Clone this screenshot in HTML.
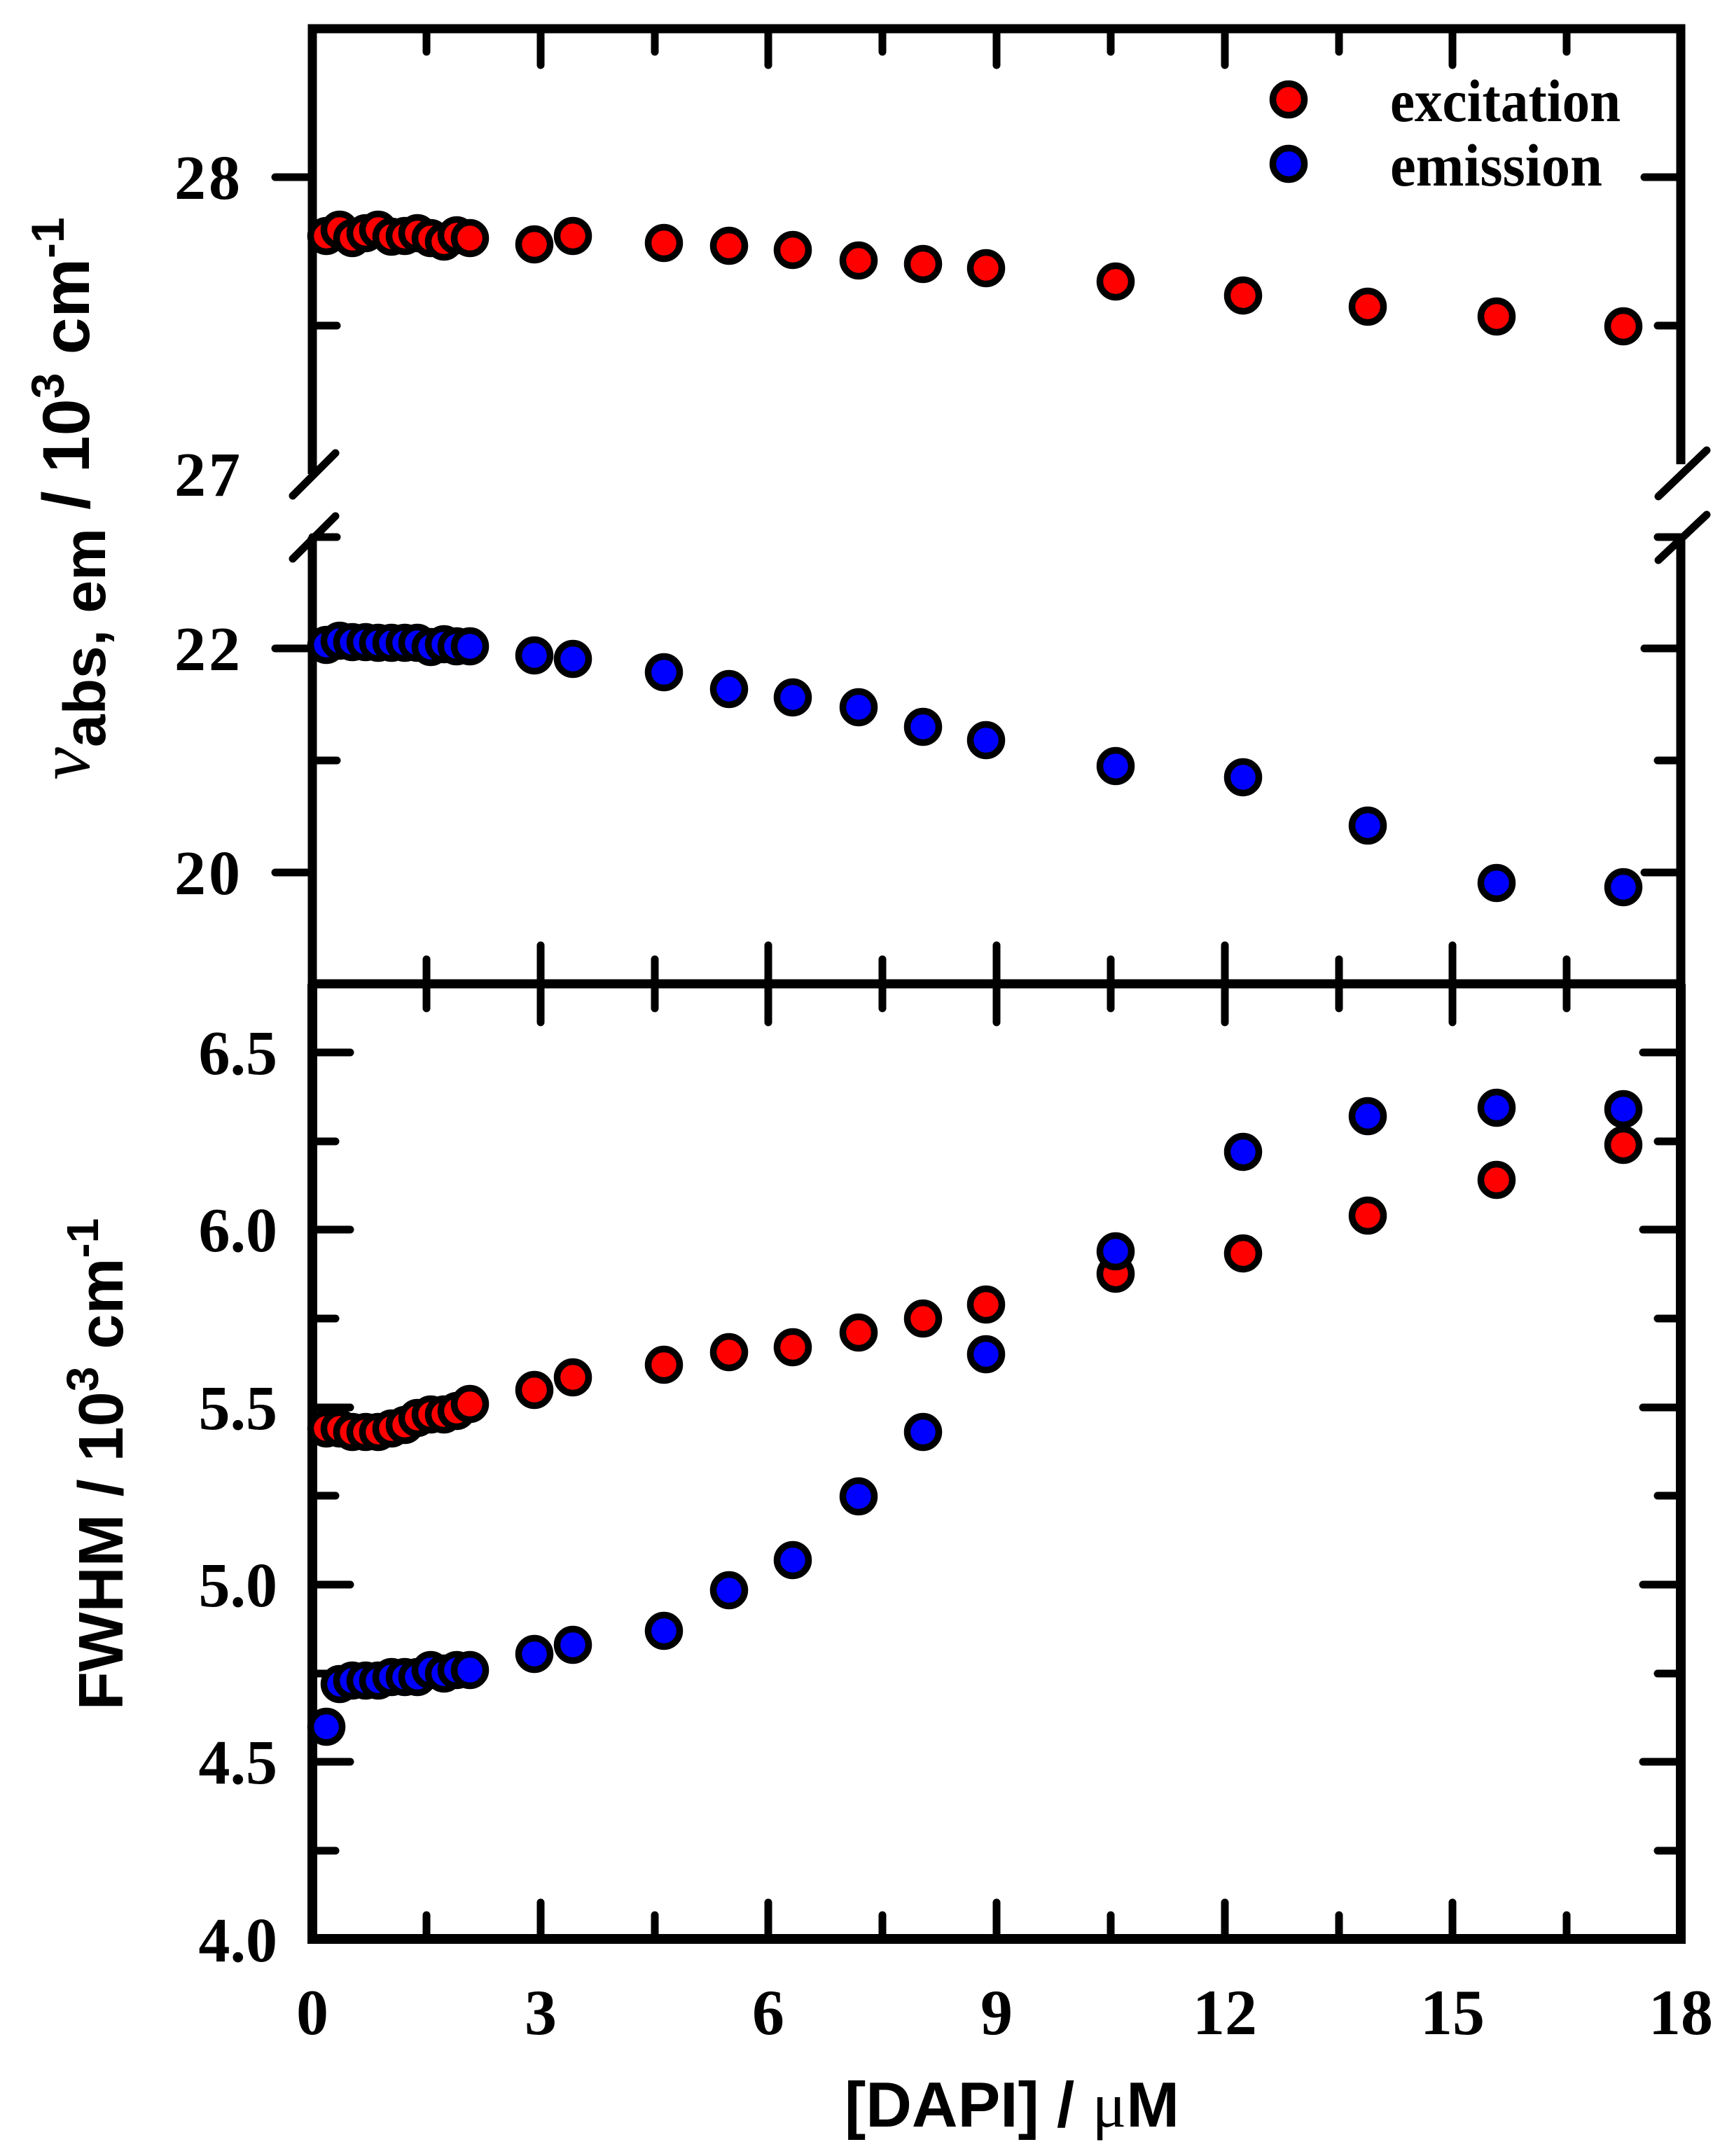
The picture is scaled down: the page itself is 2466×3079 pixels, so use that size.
<!DOCTYPE html>
<html><head><meta charset="utf-8"><style>
html,body{margin:0;padding:0;background:#fff;}
svg{display:block;}
</style></head><body>
<svg width="2466" height="3079" viewBox="0 0 2466 3079" xmlns="http://www.w3.org/2000/svg">
<rect width="2466" height="3079" fill="#fff"/>
<g stroke="#000" stroke-linecap="round" fill="none">
 <path d="M446 677 L446 41 L2400 41 L2400 663" stroke-width="13" stroke-linecap="butt"/>
 <path d="M446 767 L446 1405 L2400 1405 L2400 767" stroke-width="13" stroke-linecap="butt"/>
 <g stroke-width="11">
  <line x1="418" y1="708" x2="479" y2="647"/><line x1="418" y1="798" x2="479" y2="737"/>
  <line x1="2368" y1="709" x2="2437" y2="643"/><line x1="2368" y1="800" x2="2437" y2="735"/>
 </g>
 <path d="M446 1405 L446 2769 L2400 2769 L2400 1405" stroke-width="14" stroke-linecap="butt"/>
 <g stroke-width="11">
  <line x1="393" y1="253" x2="446" y2="253"/><line x1="393" y1="926" x2="446" y2="926"/><line x1="393" y1="1246" x2="446" y2="1246"/>
  <line x1="446" y1="465" x2="481" y2="465"/><line x1="446" y1="767" x2="481" y2="767"/><line x1="446" y1="1086" x2="481" y2="1086"/>
  <line x1="2348" y1="253" x2="2400" y2="253"/><line x1="2367" y1="465" x2="2400" y2="465"/>
  <line x1="2367" y1="767" x2="2400" y2="767"/><line x1="2348" y1="926" x2="2400" y2="926"/>
  <line x1="2367" y1="1086" x2="2400" y2="1086"/><line x1="2348" y1="1246" x2="2400" y2="1246"/>
  <line x1="609" y1="41" x2="609" y2="74"/><line x1="772" y1="41" x2="772" y2="93"/>
  <line x1="935" y1="41" x2="935" y2="74"/><line x1="1097" y1="41" x2="1097" y2="93"/>
  <line x1="1260" y1="41" x2="1260" y2="74"/><line x1="1423" y1="41" x2="1423" y2="93"/>
  <line x1="1586" y1="41" x2="1586" y2="74"/><line x1="1749" y1="41" x2="1749" y2="93"/>
  <line x1="1912" y1="41" x2="1912" y2="74"/><line x1="2074" y1="41" x2="2074" y2="93"/>
  <line x1="2237" y1="41" x2="2237" y2="74"/>
  <line x1="609" y1="1370" x2="609" y2="1440"/><line x1="772" y1="1350" x2="772" y2="1460"/>
  <line x1="935" y1="1370" x2="935" y2="1440"/><line x1="1097" y1="1350" x2="1097" y2="1460"/>
  <line x1="1260" y1="1370" x2="1260" y2="1440"/><line x1="1423" y1="1350" x2="1423" y2="1460"/>
  <line x1="1586" y1="1370" x2="1586" y2="1440"/><line x1="1749" y1="1350" x2="1749" y2="1460"/>
  <line x1="1912" y1="1370" x2="1912" y2="1440"/><line x1="2074" y1="1350" x2="2074" y2="1460"/>
  <line x1="2237" y1="1370" x2="2237" y2="1440"/>
  <line x1="609" y1="2769" x2="609" y2="2735"/><line x1="772" y1="2769" x2="772" y2="2717"/>
  <line x1="935" y1="2769" x2="935" y2="2735"/><line x1="1097" y1="2769" x2="1097" y2="2717"/>
  <line x1="1260" y1="2769" x2="1260" y2="2735"/><line x1="1423" y1="2769" x2="1423" y2="2717"/>
  <line x1="1586" y1="2769" x2="1586" y2="2735"/><line x1="1749" y1="2769" x2="1749" y2="2717"/>
  <line x1="1912" y1="2769" x2="1912" y2="2735"/><line x1="2074" y1="2769" x2="2074" y2="2717"/>
  <line x1="2237" y1="2769" x2="2237" y2="2735"/>
  <line x1="446" y1="2263" x2="500" y2="2263"/><line x1="2400" y1="2263" x2="2346" y2="2263"/>
  <line x1="446" y1="1756" x2="500" y2="1756"/><line x1="2400" y1="1756" x2="2346" y2="1756"/>
  <line x1="446" y1="2516" x2="500" y2="2516"/><line x1="2400" y1="2516" x2="2346" y2="2516"/>
  <line x1="446" y1="2010" x2="500" y2="2010"/><line x1="2400" y1="2010" x2="2346" y2="2010"/>
  <line x1="446" y1="1503" x2="500" y2="1503"/><line x1="2400" y1="1503" x2="2346" y2="1503"/>
  <line x1="446" y1="2643" x2="479" y2="2643"/><line x1="2400" y1="2643" x2="2367" y2="2643"/>
  <line x1="446" y1="2390" x2="479" y2="2390"/><line x1="2400" y1="2390" x2="2367" y2="2390"/>
  <line x1="446" y1="2136" x2="479" y2="2136"/><line x1="2400" y1="2136" x2="2367" y2="2136"/>
  <line x1="446" y1="1883" x2="479" y2="1883"/><line x1="2400" y1="1883" x2="2367" y2="1883"/>
  <line x1="446" y1="1630" x2="479" y2="1630"/><line x1="2400" y1="1630" x2="2367" y2="1630"/>
 </g>
</g>
<g font-family="'Liberation Serif',serif" font-weight="bold" font-size="90" fill="#000" text-anchor="end">
 <text x="347" y="284" letter-spacing="4">28</text>
 <text x="347" y="708" letter-spacing="4">27</text>
 <text x="347" y="957" letter-spacing="4">22</text>
 <text x="347" y="1277" letter-spacing="4">20</text>
 <text x="396" y="1534">6.5</text>
 <text x="396" y="1787">6.0</text>
 <text x="396" y="2041">5.5</text>
 <text x="396" y="2294">5.0</text>
 <text x="396" y="2547">4.5</text>
 <text x="396" y="2801">4.0</text>
</g>
<g font-family="'Liberation Serif',serif" font-weight="bold" font-size="92" fill="#000" text-anchor="middle">
 <text x="446" y="2905">0</text><text x="772" y="2905">3</text><text x="1097" y="2905">6</text>
 <text x="1423" y="2905">9</text><text x="1749" y="2905">12</text><text x="2074" y="2905">15</text>
 <text x="2400" y="2905">18</text>
</g>
<text x="1206" y="3037" font-family="'Liberation Sans',sans-serif" font-weight="bold" font-size="91" textLength="478" lengthAdjust="spacingAndGlyphs">[DAPI] / <tspan font-family="'Liberation Serif',serif" font-weight="normal">μ</tspan>M</text>
<text transform="translate(127,712) rotate(-90)" text-anchor="middle" font-family="'Liberation Sans',sans-serif" font-weight="bold" font-size="95"><tspan font-style="italic" font-weight="normal" font-family="'Liberation Serif',serif" font-size="105">ν</tspan><tspan font-size="84" dy="23">abs, em</tspan><tspan dy="-23"> / 10</tspan><tspan font-size="66" dy="-36">3</tspan><tspan dy="36"> cm</tspan><tspan font-size="66" dy="-36">-1</tspan></text>
<text transform="translate(175,2091) rotate(-90)" text-anchor="middle" font-family="'Liberation Sans',sans-serif" font-weight="bold" font-size="90">FWHM / 10<tspan font-size="64" dy="-35">3</tspan><tspan dy="35"> cm</tspan><tspan font-size="64" dy="-35">-1</tspan></text>
<g stroke="#000" stroke-width="9.5">
 <circle cx="1840" cy="142" r="22.5" fill="#ff0000"/>
 <circle cx="1840" cy="234" r="22.5" fill="#0000ff"/>
</g>
<g font-family="'Liberation Serif',serif" font-weight="bold" font-size="86" fill="#000">
 <text x="1985" y="173" textLength="329" lengthAdjust="spacingAndGlyphs">excitation</text>
 <text x="1985" y="265" textLength="303" lengthAdjust="spacingAndGlyphs">emission</text>
</g>
<g stroke="#000" stroke-width="9.5">
 <g fill="#ff0000">
  <circle cx="466" cy="337" r="22.5"/><circle cx="485" cy="328" r="22.5"/><circle cx="503" cy="340" r="22.5"/>
  <circle cx="522" cy="333" r="22.5"/><circle cx="540" cy="328" r="22.5"/><circle cx="559" cy="338" r="22.5"/>
  <circle cx="578" cy="337" r="22.5"/><circle cx="596" cy="333" r="22.5"/><circle cx="615" cy="340" r="22.5"/>
  <circle cx="634" cy="345" r="22.5"/><circle cx="652" cy="336" r="22.5"/><circle cx="671" cy="340" r="22.5"/>
  <circle cx="763" cy="349" r="22.5"/><circle cx="818" cy="337" r="22.5"/><circle cx="948" cy="347" r="22.5"/>
  <circle cx="1041" cy="351" r="22.5"/><circle cx="1132" cy="357" r="22.5"/><circle cx="1226" cy="372" r="22.5"/>
  <circle cx="1318" cy="377" r="22.5"/><circle cx="1408" cy="383" r="22.5"/><circle cx="1593" cy="402" r="22.5"/>
  <circle cx="1775" cy="422" r="22.5"/><circle cx="1953" cy="438" r="22.5"/><circle cx="2137" cy="452" r="22.5"/>
  <circle cx="2318" cy="466" r="22.5"/>
 </g>
 <g fill="#0000ff">
  <circle cx="466" cy="921" r="22.5"/><circle cx="485" cy="915" r="22.5"/><circle cx="503" cy="917" r="22.5"/>
  <circle cx="522" cy="917" r="22.5"/><circle cx="540" cy="918" r="22.5"/><circle cx="559" cy="918" r="22.5"/>
  <circle cx="578" cy="918" r="22.5"/><circle cx="596" cy="918" r="22.5"/><circle cx="615" cy="924" r="22.5"/>
  <circle cx="634" cy="920" r="22.5"/><circle cx="652" cy="923" r="22.5"/><circle cx="671" cy="923" r="22.5"/>
  <circle cx="763" cy="936" r="22.5"/><circle cx="818" cy="941" r="22.5"/><circle cx="948" cy="960" r="22.5"/>
  <circle cx="1041" cy="984" r="22.5"/><circle cx="1132" cy="996" r="22.5"/><circle cx="1226" cy="1010" r="22.5"/>
  <circle cx="1318" cy="1038" r="22.5"/><circle cx="1408" cy="1057" r="22.5"/><circle cx="1593" cy="1094" r="22.5"/>
  <circle cx="1775" cy="1110" r="22.5"/><circle cx="1953" cy="1179" r="22.5"/><circle cx="2137" cy="1261" r="22.5"/>
  <circle cx="2318" cy="1267" r="22.5"/>
 </g>
 <g fill="#ff0000">
  <circle cx="466" cy="2040" r="22.5"/><circle cx="485" cy="2040" r="22.5"/><circle cx="503" cy="2045" r="22.5"/>
  <circle cx="522" cy="2045" r="22.5"/><circle cx="540" cy="2045" r="22.5"/><circle cx="559" cy="2040" r="22.5"/>
  <circle cx="578" cy="2035" r="22.5"/><circle cx="596" cy="2025" r="22.5"/><circle cx="615" cy="2020" r="22.5"/>
  <circle cx="634" cy="2020" r="22.5"/><circle cx="652" cy="2015" r="22.5"/><circle cx="671" cy="2005" r="22.5"/>
  <circle cx="763" cy="1985" r="22.5"/><circle cx="818" cy="1967" r="22.5"/><circle cx="948" cy="1949" r="22.5"/>
  <circle cx="1041" cy="1931" r="22.5"/><circle cx="1132" cy="1924" r="22.5"/><circle cx="1226" cy="1903" r="22.5"/>
  <circle cx="1318" cy="1883" r="22.5"/><circle cx="1408" cy="1863" r="22.5"/><circle cx="1593" cy="1819" r="22.5"/>
  <circle cx="1775" cy="1790" r="22.5"/><circle cx="1953" cy="1736" r="22.5"/><circle cx="2137" cy="1685" r="22.5"/>
  <circle cx="2318" cy="1635" r="22.5"/>
 </g>
 <g fill="#0000ff">
  <circle cx="466" cy="2466" r="22.5"/><circle cx="485" cy="2405" r="22.5"/><circle cx="503" cy="2400" r="22.5"/>
  <circle cx="522" cy="2400" r="22.5"/><circle cx="540" cy="2400" r="22.5"/><circle cx="559" cy="2395" r="22.5"/>
  <circle cx="578" cy="2395" r="22.5"/><circle cx="596" cy="2395" r="22.5"/><circle cx="615" cy="2385" r="22.5"/>
  <circle cx="634" cy="2390" r="22.5"/><circle cx="652" cy="2385" r="22.5"/><circle cx="671" cy="2385" r="22.5"/>
  <circle cx="763" cy="2362" r="22.5"/><circle cx="818" cy="2349" r="22.5"/><circle cx="948" cy="2329" r="22.5"/>
  <circle cx="1041" cy="2271" r="22.5"/><circle cx="1132" cy="2228" r="22.5"/><circle cx="1226" cy="2137" r="22.5"/>
  <circle cx="1318" cy="2045" r="22.5"/><circle cx="1408" cy="1934" r="22.5"/><circle cx="1593" cy="1787" r="22.5"/>
  <circle cx="1775" cy="1645" r="22.5"/><circle cx="1953" cy="1594" r="22.5"/><circle cx="2137" cy="1582" r="22.5"/>
  <circle cx="2318" cy="1584" r="22.5"/>
 </g>
</g>
</svg>
</body></html>
